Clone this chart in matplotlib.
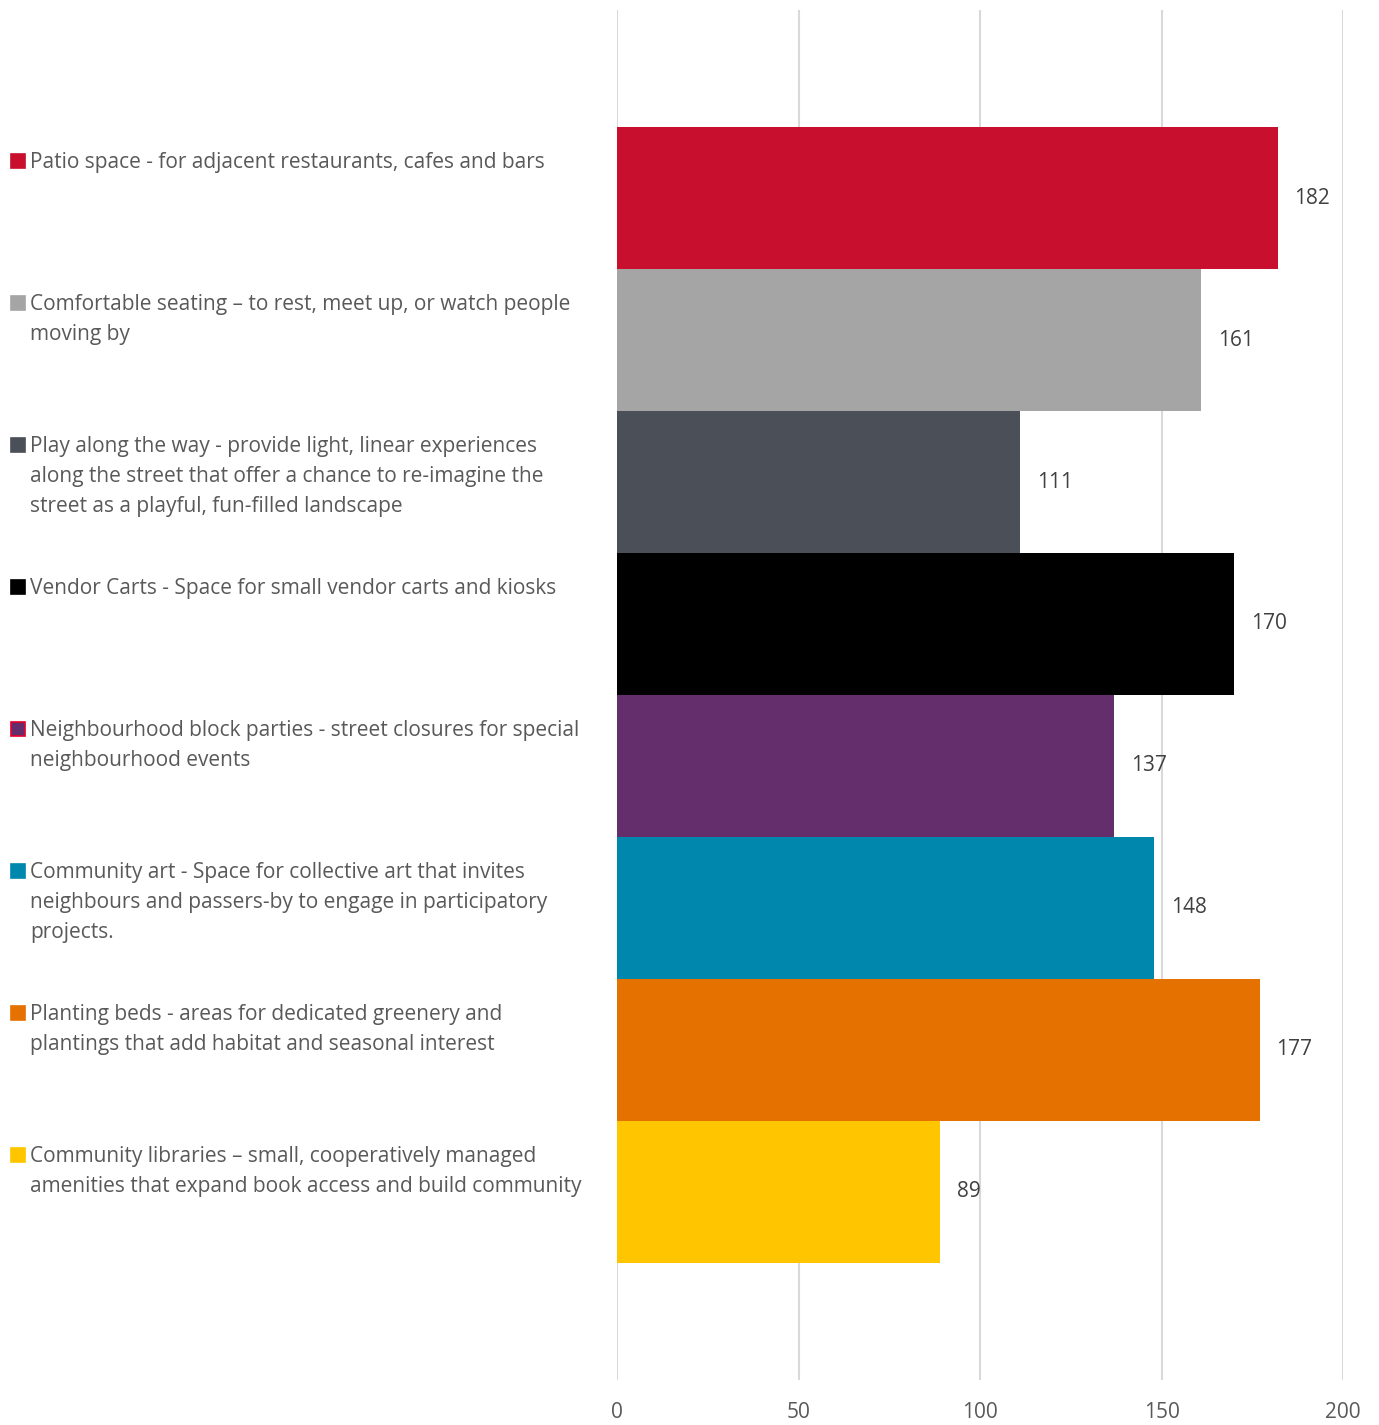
import matplotlib.pyplot as plt
import matplotlib.transforms as mtransforms

plt.rcParams['font.family'] = ['Open Sans', 'DejaVu Sans']

labels = [
    "Patio space - for adjacent restaurants, cafes and bars",
    "Comfortable seating \u2013 to rest, meet up, or watch people\nmoving by",
    "Play along the way - provide light, linear experiences\nalong the street that offer a chance to re-imagine the\nstreet as a playful, fun-filled landscape",
    "Vendor Carts - Space for small vendor carts and kiosks",
    "Neighbourhood block parties - street closures for special\nneighbourhood events",
    "Community art - Space for collective art that invites\nneighbours and passers-by to engage in participatory\nprojects.",
    "Planting beds - areas for dedicated greenery and\nplantings that add habitat and seasonal interest",
    "Community libraries \u2013 small, cooperatively managed\namenities that expand book access and build community",
]
values = [182, 161, 111, 170, 137, 148, 177, 89]
colors = ["#C8102E", "#A5A5A5", "#4B4F58", "#000000",
          "#642D6C", "#0087AE", "#E57200", "#FFC600"]
edges = ["none", "none", "none", "none", "#E4002B", "none", "none", "none"]
xticks = [0, 50, 100, 150, 200]

W, H = 1379, 1425
fig = plt.figure(figsize=(W / 100, H / 100), dpi=100)
ax = fig.add_axes([617 / W, 1 - 1380 / H, (1343 - 617) / W, (1380 - 10) / H])

pos = list(range(len(values)))
ax.barh(pos, values, height=1.0, color=colors, zorder=2)

pad = (127 - 10) / 142
ax.set_ylim(len(values) - 0.5 + pad, -0.5 - pad)
ax.set_xlim(0, 200)
ax.set_xticks(xticks)
ax.set_yticks([])
ax.grid(axis='x', color='#D9D9D9', linewidth=1.5, zorder=0)
for s in ax.spines.values():
    s.set_visible(False)
ax.tick_params(axis='x', length=0, labelsize=15, labelcolor='#595959', pad=16)

# value labels at the bar ends
for p, v in zip(pos, values):
    ax.annotate(str(v), (v, p), xytext=(12, 0), textcoords='offset points',
                va='center', ha='left', fontsize=15, color='#404040')

# category labels with colored markers on the left
trans = mtransforms.blended_transform_factory(fig.transFigure, ax.transData)
for p, lab, c, e in zip(pos, labels, colors, edges):
    ax.text(30 / W, p - 0.5 + 0.178, lab, transform=trans, ha='left', va='top',
            fontsize=15, color='#595959', linespacing=1.55, clip_on=False)
    ax.plot([17.5 / W], [p - 0.5 + 0.242], transform=trans, marker='s',
            markersize=9.5, color=c, markeredgecolor=e if e != 'none' else c,
            markeredgewidth=1.2, clip_on=False, linestyle='none')

fig.savefig("out.png", dpi=100)
